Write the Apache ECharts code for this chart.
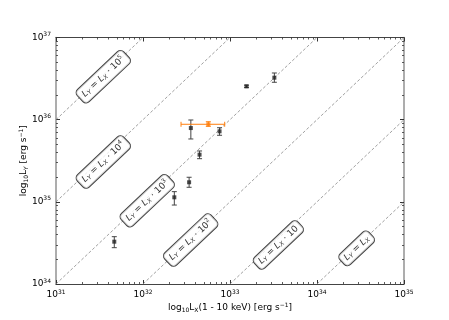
<!DOCTYPE html>
<html>
<head>
<meta charset="utf-8">
<script src="https://cdn.jsdelivr.net/npm/echarts@6/dist/echarts.min.js"></script>
<style>
  html, body { margin: 0; padding: 0; background: #fff; }
  #chart { width: 449px; height: 320px; }
</style>
</head>
<body>
<div id="chart"></div>
<script>
// log10 of the luminosities
var logLx   = [31.67, 32.36, 32.53, 32.65, 32.55, 32.88, 33.19, 33.51]
var logLy   = [34.515, 35.055, 35.238, 35.574, 35.898, 35.858, 36.406, 36.511]
var logLyLo = [34.442, 34.961, 35.177, 35.525, 35.765, 35.810, 36.39, 36.455]
var logLyHi = [34.576, 35.124, 35.299, 35.619, 35.996, 35.902, 36.42, 36.568]

// highlighted source (orange)
var hlLx = [32.751]
var hlLy = [35.944]
var hlLxLo = [32.437]
var hlLxHi = [32.939]
var hlLyLo = [35.919]
var hlLyHi = [35.975]

// Ly = Lx * 10^k reference lines and where their labels sit
var ratioExp = [0, 1, 2, 3, 4, 5]
var labelLx = [34.456, 33.556, 32.548, 32.049, 31.544, 31.544]
var labelLy = [34.434, 34.475, 34.535, 35.014, 35.485, 36.523]

var xTicks = [31, 32, 33, 34, 35]
var yTicks = [34, 35, 36, 37]

var FONT = 'DejaVu Sans'
var BLACK = '#222'
var ORANGE = '#ff7f0e'

function minorsOf(majors) {
  var out = []
  for (var i = 0; i < majors.length - 1; i++) {
    for (var m = 2; m <= 9; m++) out.push(majors[i] + Math.log10(m))
  }
  return out
}

var powRich = {
  b: { fontSize: 9, fontFamily: FONT, color: '#000' },
  s: { fontSize: 6, fontFamily: FONT, color: '#000', padding: [0, 0, 6, 0] }
}
function powLabel(v) {
  return '{b|10}{s|' + Math.round(v) + '}'
}

var nameRich = {
  t: { fontSize: 9, fontFamily: FONT, color: '#000' },
  sb: { fontSize: 6, fontFamily: FONT, color: '#000', padding: [4, 0, 0, 0] },
  sp: { fontSize: 6, fontFamily: FONT, color: '#000', padding: [0, 0, 6, 0] }
}

function makeAxis(opt, majors, pos, axisColor, axisWidth) {
  var minors = minorsOf(majors)
  var base = {
    type: 'value',
    min: majors[0],
    max: majors[majors.length - 1],
    interval: 1,
    position: pos,
    splitLine: { show: false }
  }
  var major = Object.assign({}, base, {
    axisLine: { show: true, onZero: false, lineStyle: { color: axisColor, width: axisWidth } },
    axisTick: { show: true, inside: true, length: 4, lineStyle: { color: '#333', width: 1 } },
    axisLabel: { show: false }
  }, opt || {})
  var minor = Object.assign({}, base, {
    axisLine: { show: false },
    axisTick: { show: true, inside: true, length: 2, customValues: minors, lineStyle: { color: '#333', width: 0.8 } },
    axisLabel: { show: false }
  })
  return [major, minor]
}

var xAxes = []
  .concat(makeAxis({
    axisLabel: { show: true, formatter: powLabel, rich: powRich, margin: 5 },
    name: '{t|log}{sb|10}{t|L}{sb|X}{t|(1 - 10 keV) [erg s}{sp|−1}{t|]}',
    nameLocation: 'middle',
    nameGap: 18,
    nameMoveOverlap: false,
    nameTextStyle: { rich: nameRich }
  }, xTicks, 'bottom', '#444', 1))
  .concat(makeAxis(null, xTicks, 'top', '#444', 1))

var yAxes = []
  .concat(makeAxis({
    axisLabel: { show: true, formatter: powLabel, rich: powRich, margin: 5 },
    name: '{t|log}{sb|10}{t|L}{sb|Y}{t| [erg s}{sp|−1}{t|]}',
    nameLocation: 'middle',
    nameGap: 26,
    nameRotate: 90,
    nameMoveOverlap: false,
    nameTextStyle: { rich: nameRich }
  }, yTicks, 'left', '#999', 1.6))
  .concat(makeAxis(null, yTicks, 'right', '#999', 1.6))

// reference lines, clipped to the axis box
var lineSeries = ratioExp.map(function (k) {
  var x0 = Math.max(xTicks[0], yTicks[0] - k)
  var x1 = Math.min(xTicks[xTicks.length - 1], yTicks[yTicks.length - 1] - k)
  return {
    type: 'line',
    data: [[x0, x0 + k], [x1, x1 + k]],
    symbol: 'none',
    silent: true,
    z: 1,
    lineStyle: { color: '#888', width: 0.8, type: [3, 2] }
  }
})

var labelRich = {
  it: { fontSize: 9, fontFamily: FONT, fontStyle: 'italic', color: '#000' },
  sb: { fontSize: 6, fontFamily: FONT, fontStyle: 'italic', color: '#000', padding: [4, 0, 0, 0] },
  n: { fontSize: 9, fontFamily: FONT, color: '#000' },
  sp: { fontSize: 6, fontFamily: FONT, color: '#000', padding: [0, 0, 6, 0] }
}
function ratioText(k) {
  var s = '{it|L}{sb|Y}{n| = }{it|L}{sb|X}'
  if (k === 1) s += '{n| · 10}'
  else if (k > 1) s += '{n| · 10}{sp|' + k + '}'
  return s
}

var labelSeries = {
  type: 'scatter',
  symbolSize: 0,
  silent: true,
  z: 3,
  data: ratioExp.map(function (k, i) { return [labelLx[i], labelLy[i]] }),
  label: {
    show: true,
    position: 'inside',
    rotate: 43.4,
    formatter: function (p) { return ratioText(ratioExp[p.dataIndex]) },
    rich: labelRich,
    backgroundColor: '#fff',
    borderColor: '#111',
    borderWidth: 1,
    borderRadius: 4,
    padding: [2, 4, 2, 4]
  }
}

function errorBars(color, horizontal) {
  return function (params, api) {
    var a = api.value(0), lo = api.value(1), hi = api.value(2), b = api.value(3)
    var p1 = horizontal ? api.coord([lo, b]) : api.coord([a, lo])
    var p2 = horizontal ? api.coord([hi, b]) : api.coord([a, hi])
    var c = 2.5
    var st = { stroke: color, lineWidth: 1 }
    var kids = [{ type: 'line', shape: { x1: p1[0], y1: p1[1], x2: p2[0], y2: p2[1] }, style: st }]
    ;[p1, p2].forEach(function (p) {
      kids.push(horizontal
        ? { type: 'line', shape: { x1: p[0], y1: p[1] - c, x2: p[0], y2: p[1] + c }, style: st }
        : { type: 'line', shape: { x1: p[0] - c, y1: p[1], x2: p[0] + c, y2: p[1] }, style: st })
    })
    return { type: 'group', children: kids }
  }
}

var chart = echarts.init(document.getElementById('chart'), null, { renderer: 'canvas' })
chart.setOption({
  animation: false,
  backgroundColor: '#fff',
  grid: { left: 56, right: 45, top: 37.5, bottom: 36, containLabel: false },
  xAxis: xAxes,
  yAxis: yAxes,
  series: lineSeries.concat([
    labelSeries,
    {
      type: 'custom',
      z: 4,
      renderItem: errorBars('#444', false),
      data: logLx.map(function (x, i) { return [x, logLyLo[i], logLyHi[i], 0] })
    },
    {
      type: 'scatter',
      z: 5,
      symbol: 'rect',
      symbolSize: 4,
      itemStyle: { color: BLACK },
      data: logLx.map(function (x, i) { return [x, logLy[i]] })
    },
    {
      type: 'custom',
      z: 4,
      renderItem: errorBars(ORANGE, false),
      data: hlLx.map(function (x, i) { return [x, hlLyLo[i], hlLyHi[i], 0] })
    },
    {
      type: 'custom',
      z: 4,
      renderItem: errorBars(ORANGE, true),
      data: hlLy.map(function (y, i) { return [0, hlLxLo[i], hlLxHi[i], y] })
    },
    {
      type: 'scatter',
      z: 5,
      symbol: 'rect',
      symbolSize: 4,
      itemStyle: { color: ORANGE },
      data: hlLx.map(function (x, i) { return [x, hlLy[i]] })
    }
  ])
})
</script>
</body>
</html>
